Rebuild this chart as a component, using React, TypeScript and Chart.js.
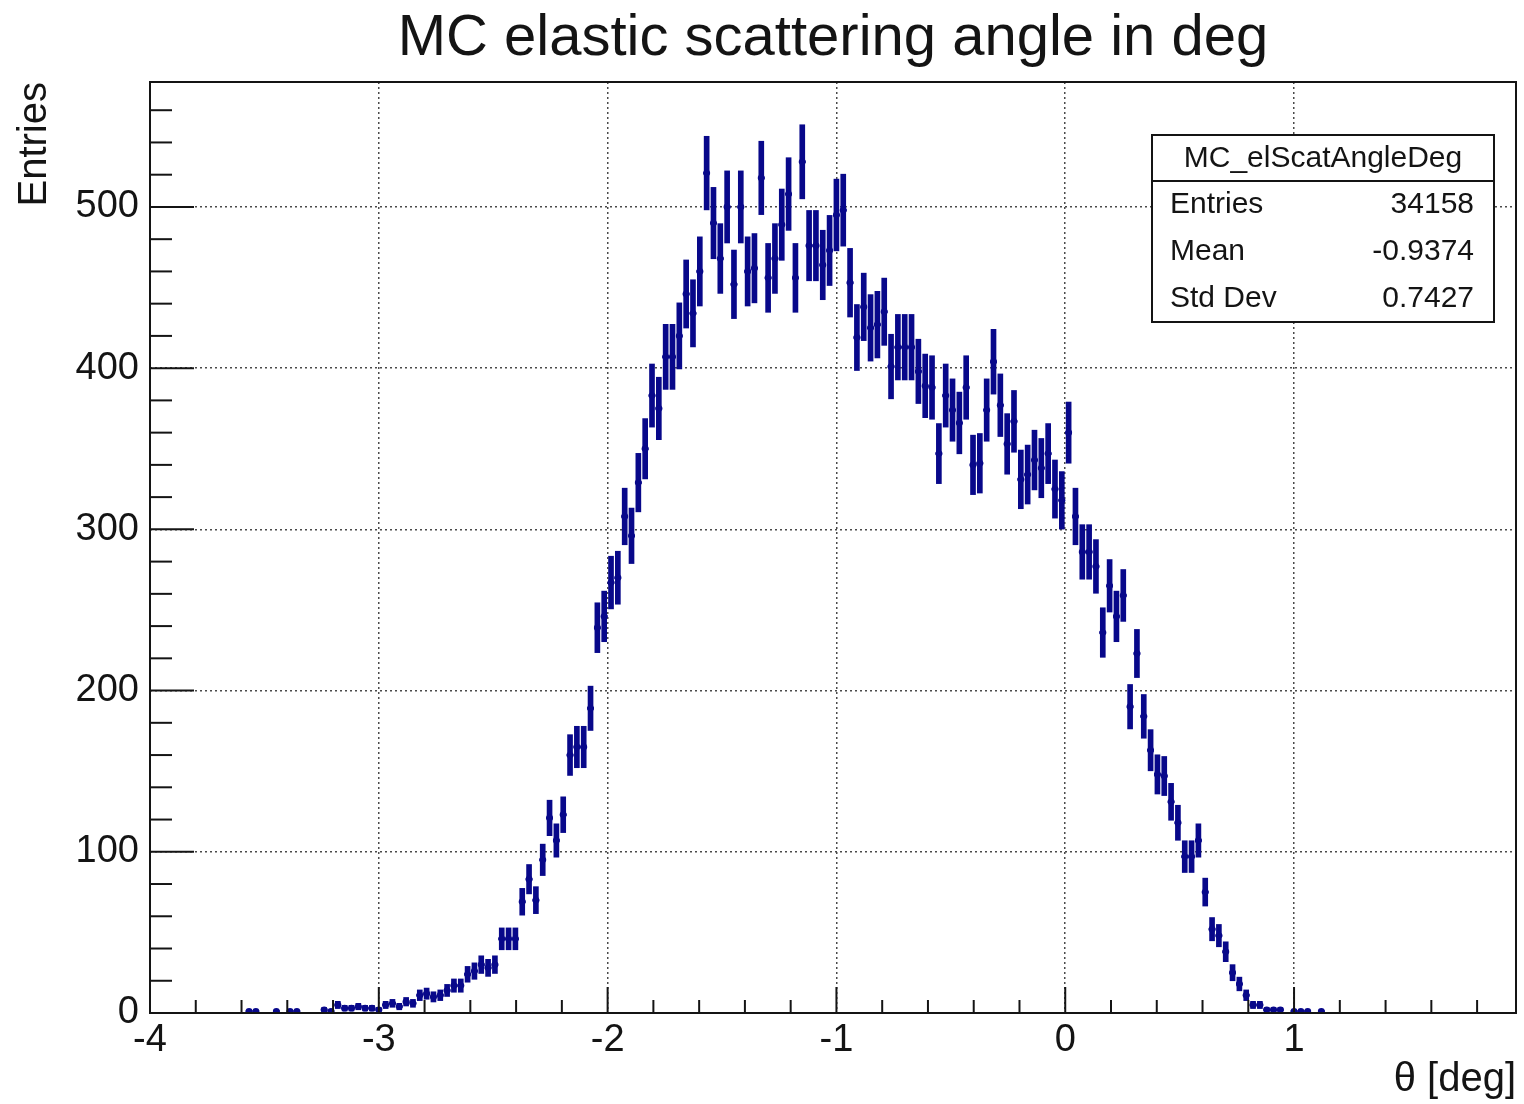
import React, { useEffect, useRef } from 'react';
import { Chart, registerables } from 'chart.js';

Chart.register(...registerables);

// ---------- text ----------
const chartTitle = 'MC elastic scattering angle in deg';
const xAxisTitle = 'θ [deg]';
const yAxisTitle = 'Entries';

// ---------- histogram definition ----------
const xMin = -4;
const xMax = 1.97;
const nBins = 200;
const yMax = 577.5;

// bin contents (200 bins from -4 to 1.97)
const binContents: number[] = [
  0, 0, 0, 0, 0, 0, 0, 0, 0, 0, 0, 0, 0, 0,
  1, 1, 0, 0, 1, 0, 1, 1, 0, 0,
  0, 2, 1, 5, 3, 3, 4, 3, 3, 2,
  5, 6, 4, 7, 6, 11, 12, 10, 11, 14,
  17, 17, 24, 26, 30, 28, 30, 46, 46, 46,
  69, 83, 70, 95, 121, 107, 123, 160, 165, 165,
  189, 239, 246, 267, 270, 308, 296, 329, 350, 383,
  375, 407, 407, 420, 446, 434, 460, 521, 490, 468,
  500, 452, 500, 460, 462, 518, 456, 468, 489, 508,
  456, 528, 476, 476, 464, 473, 495, 498, 453, 419,
  438, 425, 427, 435, 401, 413, 413, 413, 398, 389,
  388, 347, 383, 374, 366, 388, 340, 341, 374, 404,
  377, 353, 367, 331, 334, 343, 338, 347, 325, 318,
  360, 308, 286, 286, 277, 236, 265, 246, 259, 190,
  223, 184, 163, 148, 147, 131, 118, 97, 97, 107,
  75, 52, 48, 38, 25, 18, 11, 5, 5, 2,
  2, 2, 0, 1, 1, 1, 0, 1, 0, 0,
  0, 0, 0, 0, 0, 0, 0, 0, 0, 0, 0, 0, 0,
  0, 0, 0, 0, 0, 0, 0, 0, 0, 0, 0, 0, 0,
];

// ---------- ticks ----------
const xTickValues = [
  -4, -3.8, -3.6, -3.4, -3.2, -3, -2.8, -2.6, -2.4, -2.2, -2, -1.8, -1.6, -1.4, -1.2,
  -1, -0.8, -0.6, -0.4, -0.2, 0, 0.2, 0.4, 0.6, 0.8, 1, 1.2, 1.4, 1.6, 1.8,
];
const xLabelValues = [-4, -3, -2, -1, 0, 1];
const xTickLabels = ['-4', '-3', '-2', '-1', '0', '1'];
const yTickValues = [
  0, 20, 40, 60, 80, 100, 120, 140, 160, 180, 200, 220, 240, 260, 280,
  300, 320, 340, 360, 380, 400, 420, 440, 460, 480, 500, 520, 540, 560,
];
const yLabelValues = [0, 100, 200, 300, 400, 500];
const yTickLabels = ['0', '100', '200', '300', '400', '500'];

// ---------- statistics box ----------
const statsName = 'MC_elScatAngleDeg';
const statsLabels = ['Entries', 'Mean', 'Std Dev'];
const statsValues = ['34158', '-0.9374', '0.7427'];

const FONT = '"Liberation Sans", Arial, Helvetica, sans-serif';
const INK = '#141414';
const MARK = '#08088a';

const binWidth = (xMax - xMin) / nBins;
const filled = binContents
  .map((v, i) => ({ x: xMin + (i + 0.5) * binWidth, v }))
  .filter((p) => p.v > 0);

const errorBars = filled.map((p) => ({ x: p.x, y: [p.v - Math.sqrt(p.v), p.v + Math.sqrt(p.v)] }));
const points = filled.map((p) => ({ x: p.x, y: p.v }));

const findLabel = (v: number, values: number[], labels: string[]) => {
  const k = values.findIndex((t) => Math.abs(t - v) < 1e-9);
  return k >= 0 ? labels[k] : '';
};
const isMajor = (v: number, values: number[]) => values.some((t) => Math.abs(t - v) < 1e-9);

const rootDecor = {
  id: 'rootDecor',
  afterDatasetsDraw(chart: any) {
    const { ctx, chartArea: a, scales } = chart;
    ctx.save();
    ctx.strokeStyle = INK;
    ctx.lineWidth = 2;
    ctx.setLineDash([]);
    // x ticks (inside, bottom)
    for (const v of xTickValues) {
      const px = scales.x.getPixelForValue(v);
      const len = isMajor(v, xLabelValues) ? 26 : 13;
      ctx.beginPath();
      ctx.moveTo(px, a.bottom);
      ctx.lineTo(px, a.bottom - len);
      ctx.stroke();
    }
    // y ticks (inside, left)
    for (const v of yTickValues) {
      const py = scales.y.getPixelForValue(v);
      const len = isMajor(v, yLabelValues) ? 44 : 22;
      ctx.beginPath();
      ctx.moveTo(a.left, py);
      ctx.lineTo(a.left + len, py);
      ctx.stroke();
    }
    // frame
    ctx.strokeRect(a.left, a.top, a.right - a.left, a.bottom - a.top);

    // statistics box
    const bw = 342;
    const bh = 187;
    const bx = a.right - 22 - bw;
    const by = a.top + 53;
    const headH = 46;
    ctx.fillStyle = '#ffffff';
    ctx.fillRect(bx, by, bw, bh);
    ctx.strokeRect(bx, by, bw, bh);
    ctx.beginPath();
    ctx.moveTo(bx, by + headH);
    ctx.lineTo(bx + bw, by + headH);
    ctx.stroke();
    ctx.fillStyle = INK;
    ctx.font = `30px ${FONT}`;
    ctx.textBaseline = 'middle';
    ctx.textAlign = 'center';
    ctx.fillText(statsName, bx + bw / 2, by + headH / 2 + 1);
    const rowH = (bh - headH) / statsLabels.length;
    statsLabels.forEach((lab, k) => {
      const cy = by + headH + rowH * (k + 0.5);
      ctx.textAlign = 'left';
      ctx.fillText(lab, bx + 18, cy);
      ctx.textAlign = 'right';
      ctx.fillText(statsValues[k], bx + bw - 20, cy);
    });
    ctx.restore();
  },
};

export default function App() {
  const ref = useRef<HTMLCanvasElement>(null);
  useEffect(() => {
    const canvas = ref.current;
    if (!canvas) return;
    const chart = new Chart(canvas, {
      type: 'bar',
      data: {
        datasets: [
          {
            type: 'scatter',
            label: 'centres',
            data: points,
            pointStyle: 'circle',
            pointRadius: 3.4,
            pointBackgroundColor: MARK,
            pointBorderColor: MARK,
            pointBorderWidth: 0,
            order: 1,
          } as any,
          {
            type: 'scatter',
            label: 'bin width',
            data: points,
            pointStyle: 'line',
            pointRadius: 3.4,
            pointBorderColor: MARK,
            pointBorderWidth: 2.5,
            order: 2,
          } as any,
          {
            type: 'bar',
            label: 'errors',
            data: errorBars,
            backgroundColor: MARK,
            borderWidth: 0,
            barThickness: 5,
            grouped: false,
            order: 3,
          } as any,
        ],
      },
      options: {
        responsive: false,
        animation: false,
        events: [],
        layout: { padding: { top: 0, left: 0, right: 8, bottom: 0 } },
        plugins: {
          legend: { display: false },
          tooltip: { enabled: false },
          title: {
            display: true,
            text: chartTitle,
            fullSize: false,
            color: INK,
            font: { family: FONT, size: 58, weight: 'normal', lineHeight: 1.2 },
            padding: { top: 4, bottom: 8.4 },
          },
        },
        scales: {
          x: {
            type: 'linear',
            min: xMin,
            max: xMax,
            offset: false,
            afterBuildTicks: (axis: any) => {
              axis.ticks = xTickValues.map((v) => ({ value: v }));
            },
            afterFit: (axis: any) => {
              axis.height = 91;
            },
            ticks: {
              autoSkip: false,
              maxRotation: 0,
              minRotation: 0,
              padding: 5,
              color: INK,
              font: { family: FONT, size: 38 },
              callback: (v: any) => findLabel(Number(v), xLabelValues, xTickLabels),
            },
            grid: {
              drawTicks: false,
              offset: false,
              lineWidth: 1.5,
              color: (c: any) => (c.tick && isMajor(c.tick.value, xLabelValues) ? '#4a4a4a' : 'rgba(0,0,0,0)'),
            },
            border: { display: false, dash: [2, 3] },
            title: {
              display: true,
              text: xAxisTitle,
              align: 'end',
              color: INK,
              font: { family: FONT, size: 40, lineHeight: 1.2 },
              padding: { top: 0, bottom: 0 },
            },
          },
          y: {
            type: 'linear',
            min: 0,
            max: yMax,
            afterBuildTicks: (axis: any) => {
              axis.ticks = yTickValues.map((v) => ({ value: v }));
            },
            afterFit: (axis: any) => {
              axis.width = 150;
            },
            ticks: {
              autoSkip: false,
              padding: 11,
              color: INK,
              font: { family: FONT, size: 38 },
              callback: (v: any) => findLabel(Number(v), yLabelValues, yTickLabels),
            },
            grid: {
              drawTicks: false,
              lineWidth: 1.5,
              color: (c: any) => (c.tick && isMajor(c.tick.value, yLabelValues) ? '#4a4a4a' : 'rgba(0,0,0,0)'),
            },
            border: { display: false, dash: [2, 3] },
            title: {
              display: true,
              text: yAxisTitle,
              align: 'end',
              color: INK,
              font: { family: FONT, size: 40, lineHeight: 1.2 },
              padding: { top: 11, bottom: 0 },
            },
          },
        },
      } as any,
      plugins: [rootDecor],
    });
    return () => chart.destroy();
  }, []);

  return (
    <div style={{ position: 'fixed', left: 0, top: 0, width: 1524, height: 1104, background: '#ffffff' }}>
      <canvas ref={ref} width={1524} height={1104} style={{ display: 'block', width: 1524, height: 1104 }} />
    </div>
  );
}
